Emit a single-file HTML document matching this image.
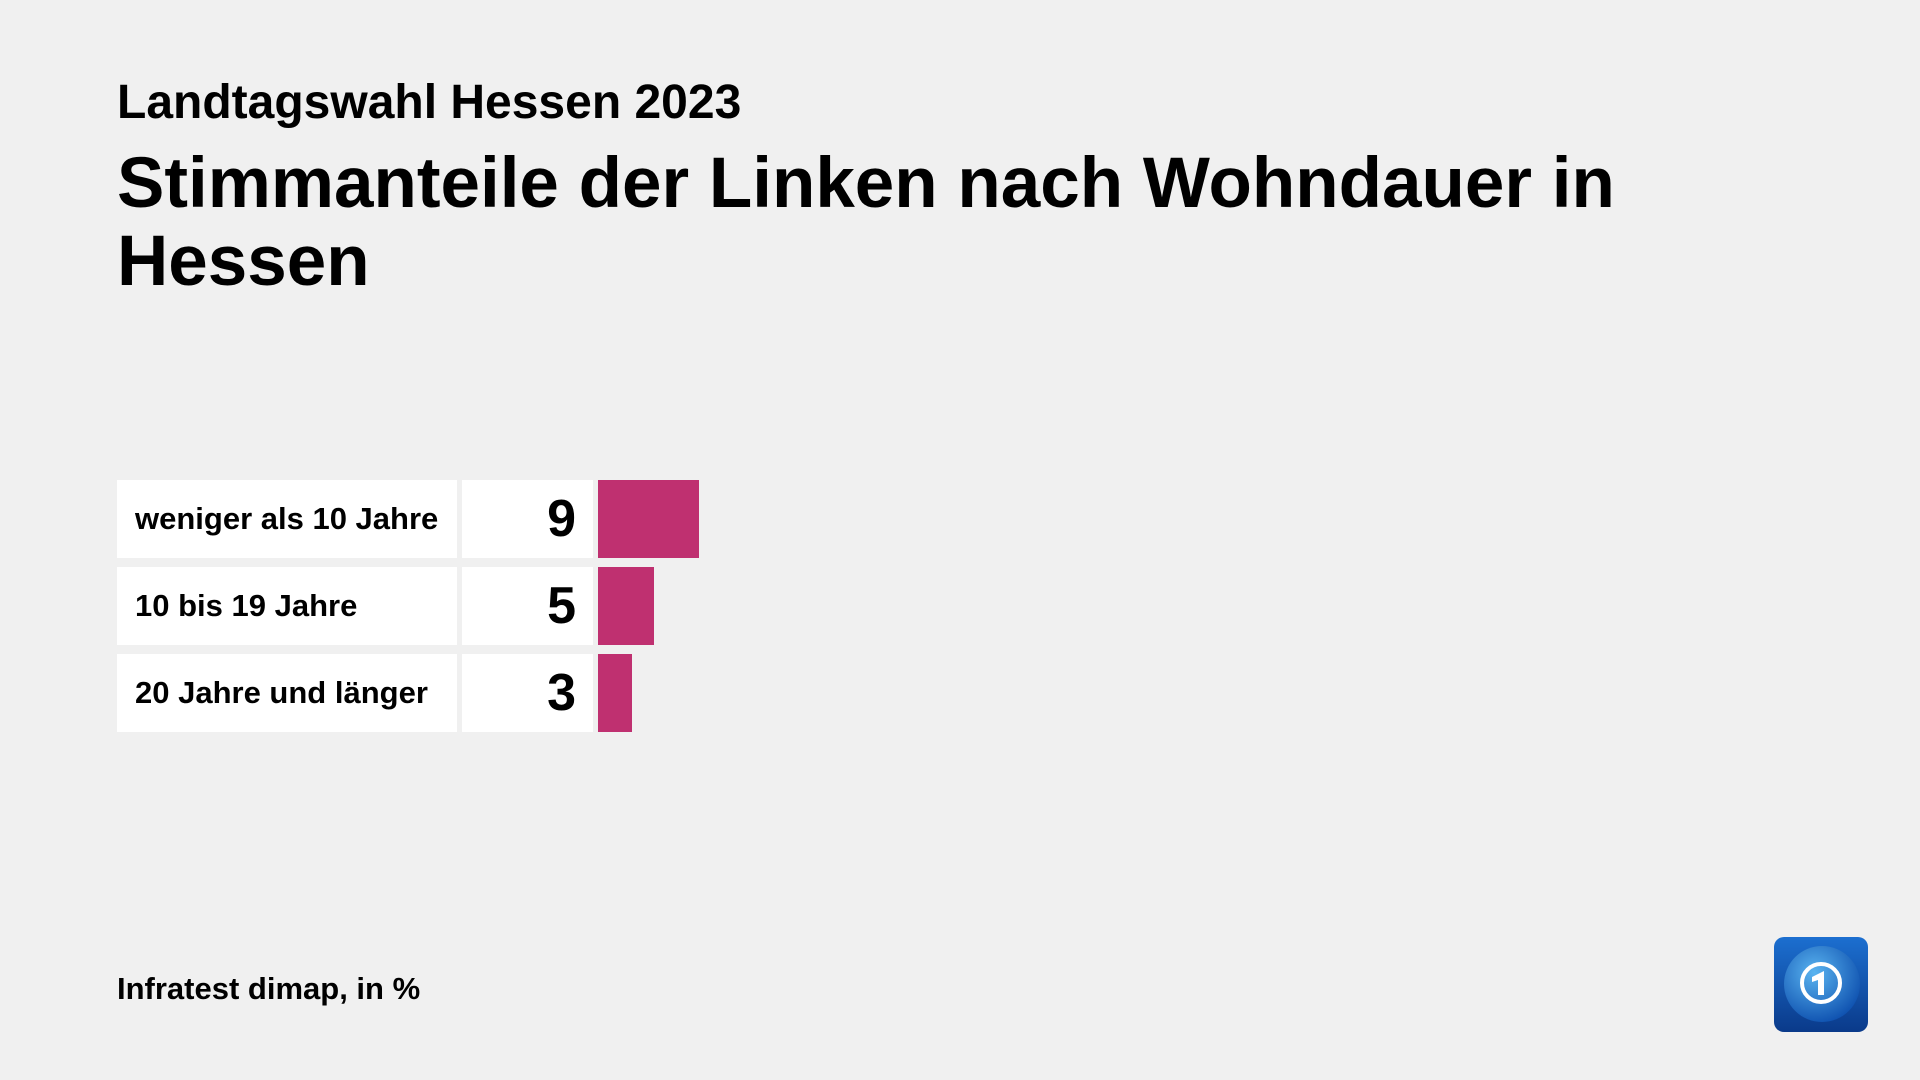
<!DOCTYPE html>
<html><head><meta charset="utf-8"><style>
html,body{margin:0;padding:0}
body{width:1920px;height:1080px;background:#f0f0f0;position:relative;overflow:hidden;font-family:"Liberation Sans",sans-serif;color:#000}
.abs{position:absolute}
#sub{left:117px;top:75px;font-size:48px;font-weight:bold;white-space:nowrap}
#title{left:117px;top:145px;font-size:71px;font-weight:bold;line-height:78px;width:1600px}
#src{left:117px;top:971px;font-size:31px;font-weight:bold}
.lab{position:absolute;left:117px;width:340px;height:78px;background:#fff;font-size:31px;font-weight:bold;line-height:78px;box-sizing:border-box;padding-left:18px;white-space:nowrap}
.val{position:absolute;left:462px;width:131px;height:78px;background:#fff;font-size:52px;font-weight:bold;line-height:78px;text-align:right;box-sizing:border-box;padding-right:17px}
.bar{position:absolute;left:598px;height:78px;background:#bf3070}
</style></head><body>
<div id="sub" class="abs">Landtagswahl Hessen 2023</div>
<div id="title" class="abs">Stimmanteile der Linken nach Wohndauer in Hessen</div>
<div id="chart"></div>
<div id="src" class="abs">Infratest dimap, in %</div>
<svg class="abs" style="left:1774px;top:937px" width="94" height="95" viewBox="0 0 94 95">
<defs><linearGradient id="g" x1="0" y1="0" x2="0" y2="1"><stop offset="0" stop-color="#1c6fd0"/><stop offset="1" stop-color="#0a3a8a"/></linearGradient>
<radialGradient id="r" cx="0.4" cy="0.35" r="0.7"><stop offset="0" stop-color="#5ab4f0"/><stop offset="1" stop-color="#0d4fae"/></radialGradient></defs>
<rect x="0" y="0" width="94" height="95" rx="10" fill="url(#g)"/>
<circle cx="48" cy="47" r="38" fill="url(#r)"/>
<circle cx="47" cy="46" r="19" fill="none" stroke="#fff" stroke-width="4"/>
<path d="M38 40 L50 34 L50 58 L44 58 L44 43 L38 45 Z" fill="#fff"/>
</svg>
<script>
const categories = ["weniger als 10 Jahre","10 bis 19 Jahre","20 Jahre und länger"];
const values = [9,5,3];
const labels = ["9","5","3"];
const chart = document.getElementById('chart');
const unit = 11.17, top0 = 480, pitch = 87;
function x(v){return v*unit;}
function y(i){return top0+i*pitch;}
categories.forEach((c,i)=>{
  const l=document.createElement('div');l.className='lab';l.style.top=y(i)+'px';l.textContent=c;
  
  
  chart.appendChild(l);
  const v=document.createElement('div');v.className='val';v.style.top=y(i)+'px';v.textContent=labels[i];
  
  
  chart.appendChild(v);
  const b=document.createElement('div');b.className='bar';b.style.top=y(i)+'px';b.style.width=x(values[i])+'px';
  
  
  chart.appendChild(b);
});
</script>
</body></html>
